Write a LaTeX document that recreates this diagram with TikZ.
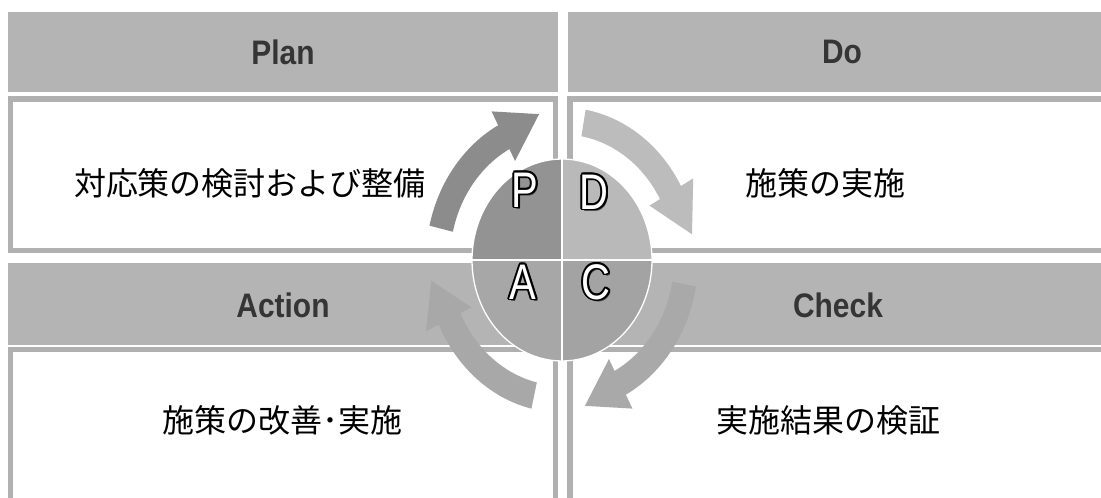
\documentclass[tikz,border=0pt]{standalone}
\usepackage{fontspec}
\setmainfont{Liberation Sans}
\newfontfamily\jpfont{Noto Sans CJK JP}
\newfontfamily\hdfont[FakeStretch=0.88]{Liberation Sans}
\newfontfamily\ltfont[FakeStretch=0.8]{Liberation Sans}
\definecolor{hdr}{HTML}{B4B4B4}
\definecolor{brd}{HTML}{B0B0B0}
\definecolor{hdtxt}{HTML}{353535}
\definecolor{qP}{HTML}{939393}
\definecolor{qD}{HTML}{B9B9B9}
\definecolor{qA}{HTML}{A7A7A7}
\definecolor{qC}{HTML}{A3A3A3}
\definecolor{arP}{HTML}{8C8C8C}
\definecolor{arD}{HTML}{BCBCBC}
\definecolor{arC}{HTML}{A9A9A9}
\definecolor{arA}{HTML}{A8A8A8}
\tikzset{
  hdrbox/.style={fill=hdr,draw=none},
  brdbox/.style={fill=brd,draw=none},
  inbox/.style={fill=white,draw=none},
  hdrtext/.style={font=\hdfont\bfseries\fontsize{34}{40}\selectfont,text=hdtxt,inner sep=0pt},
  jptext/.style={font=\jpfont\fontsize{32}{38}\selectfont,text=black,inner sep=0pt},
  ltr/.style={font=\ltfont\fontsize{50}{60}\selectfont,inner sep=0pt},
}
\newcommand\cyclearrow[4]{%
  \fill[#1] (#2:136) arc[start angle=#2,end angle=#3,radius=136] -- (#3:150) -- (#4:132)
    -- (#3:100) -- (#3:112) arc[start angle=#3,end angle=#2,radius=112] -- cycle;}
\newcommand\outlinedletter[3]{%
  \node[ltr,text=black!70,shift={(2,-2.4)}] (#1s) at (#2) {#3};
  \foreach \a in {0,30,...,330}{\node[ltr,text=black,shift={(\a:1.7)}] (#1o\a) at (#2) {#3};}
  \node[ltr,text=white] (#1) at (#2) {#3};}
\begin{document}
\begin{tikzpicture}[x=1pt,y=1pt]
\useasboundingbox (0,0) rectangle (1101,498);
\fill[white] (0,0) rectangle (1101,498);
% headers
\fill[hdrbox] (8,406) rectangle (558,486);
\fill[hdrbox] (568,406) rectangle (1101,486);
\fill[hdrbox] (8,153) rectangle (558,235);
\fill[hdrbox] (568,153) rectangle (1101,235);
% upper body boxes
\fill[brdbox] (8,245) rectangle (558,402);
\fill[inbox] (13,250) rectangle (553,396);
\fill[brdbox] (567,245) rectangle (1110,402);
\fill[inbox] (573,250) rectangle (1110,396);
% lower body boxes
\fill[brdbox] (8,-12) rectangle (558,151);
\fill[inbox] (13,-12) rectangle (553,146);
\fill[brdbox] (567,-12) rectangle (1110,151);
\fill[inbox] (573,-12) rectangle (1110,146);
% header texts
\node[hdrtext] (plan) at (283,446) {Plan};
\node[hdrtext] (do) at (842,446) {Do};
\node[hdrtext] (action) at (283,193) {Action};
\node[hdrtext] (check) at (838,193) {Check};
% body texts
\node[jptext] (plantxt) at (250,315) {対応策の検討および整備};
\node[jptext] (dotxt) at (825,315) {施策の実施};
\node[jptext] (acttxt) at (282,78) {施策の改善･実施};
\node[jptext] (chktxt) at (828,78) {実施結果の検証};
% cycle
\begin{scope}[shift={(562,238)},yscale=1.122]
  \cyclearrow{arP}{167}{118}{100}
  \cyclearrow{arD}{80}{29}{10}
  \cyclearrow{arC}{-10}{-62}{-80}
  \cyclearrow{arA}{-103}{-155}{-172}
  \fill[qP] (0,0) -- (90:90) arc[start angle=90,end angle=180,radius=90] -- cycle;
  \fill[qD] (0,0) -- (0:90) arc[start angle=0,end angle=90,radius=90] -- cycle;
  \fill[qA] (0,0) -- (180:90) arc[start angle=180,end angle=270,radius=90] -- cycle;
  \fill[qC] (0,0) -- (270:90) arc[start angle=270,end angle=360,radius=90] -- cycle;
  \draw[white,line width=1.3pt] (0,0) circle[radius=90];
  \draw[white,line width=1.3pt] (-90,0) -- (90,0) (0,-90) -- (0,90);
\end{scope}
\outlinedletter{P}{525,308}{P}
\outlinedletter{D}{594,306}{D}
\outlinedletter{A}{523,216}{A}
\outlinedletter{C}{596,216}{C}
\end{tikzpicture}
\end{document}
